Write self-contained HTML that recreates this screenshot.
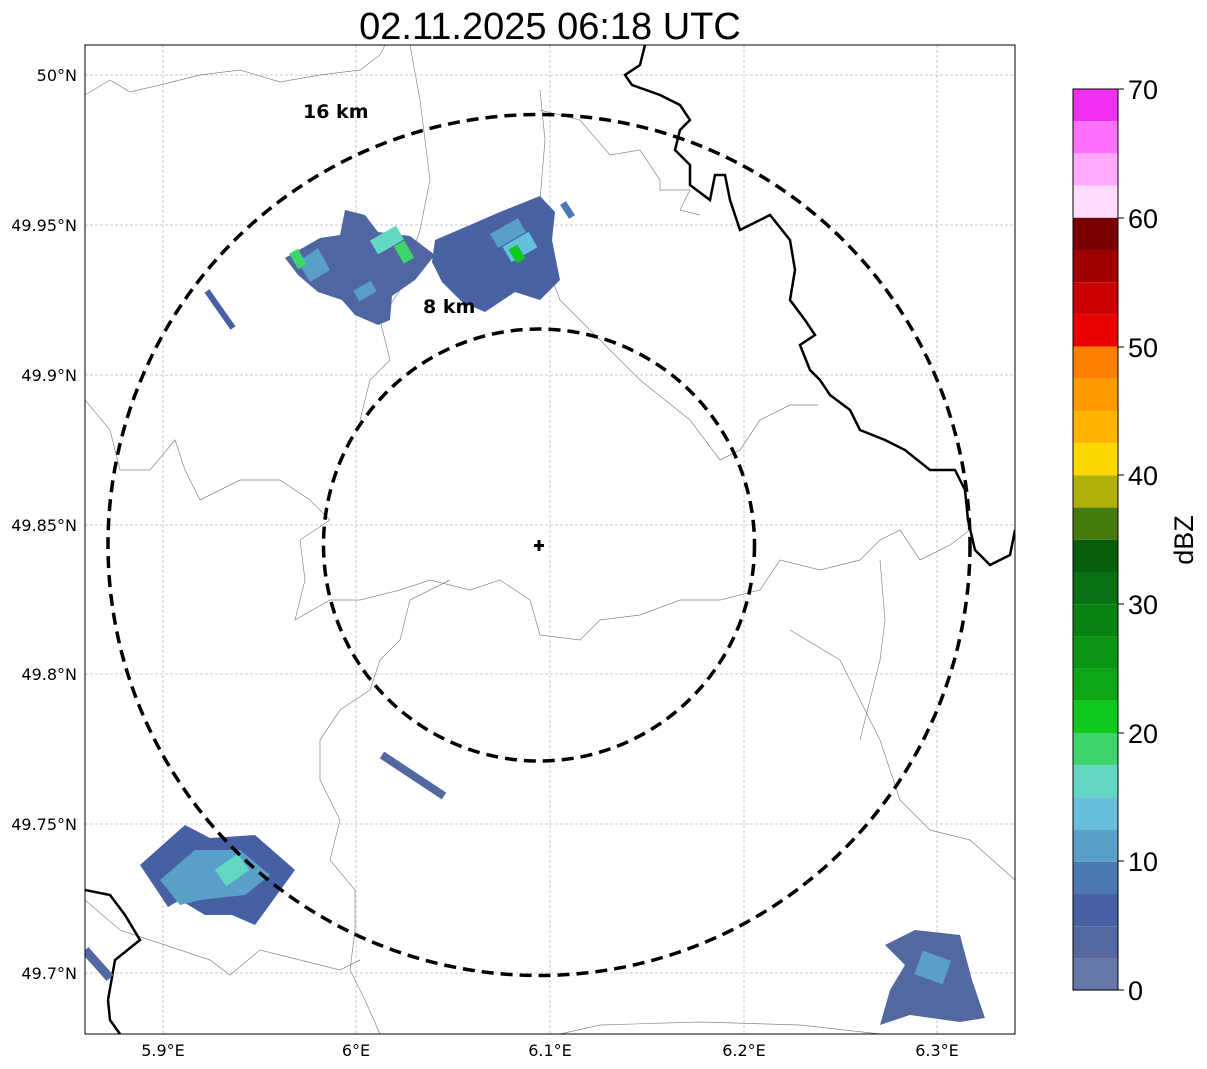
<!DOCTYPE html>
<html><head><meta charset="utf-8"><style>
body{margin:0;background:#fff;}
svg{display:block;font-family:"Liberation Sans",sans-serif;}
</style></head><body>
<svg width="1207" height="1069" viewBox="0 0 1207 1069" xmlns="http://www.w3.org/2000/svg">
<rect width="1207" height="1069" fill="#fff"/>
<text x="550" y="39" font-size="38" text-anchor="middle">02.11.2025 06:18 UTC</text>
<defs><clipPath id="c"><rect x="85" y="45" width="930" height="989"/></clipPath></defs>
<g clip-path="url(#c)">
<g stroke="#bbb" stroke-width="0.8" stroke-dasharray="3,2">
<line x1="163" y1="45" x2="163" y2="1034"/><line x1="356" y1="45" x2="356" y2="1034"/><line x1="550" y1="45" x2="550" y2="1034"/><line x1="744" y1="45" x2="744" y2="1034"/><line x1="937" y1="45" x2="937" y2="1034"/>
<line x1="85" y1="75" x2="1015" y2="75"/><line x1="85" y1="225" x2="1015" y2="225"/><line x1="85" y1="375" x2="1015" y2="375"/><line x1="85" y1="525" x2="1015" y2="525"/><line x1="85" y1="674" x2="1015" y2="674"/><line x1="85" y1="824" x2="1015" y2="824"/><line x1="85" y1="973" x2="1015" y2="973"/>
</g>
<g fill="none" stroke="#888" stroke-width="0.7">
<path d="M85,95 L110,80 L130,92 L160,85 L200,75 L240,70 L280,82 L320,75 L360,70 L380,55 L385,45"/>
<path d="M85,400 L110,430 L120,470 L150,470 L175,440 L185,470 L200,500 L240,480 L280,480 L310,500 L330,520 L300,540 L305,580 L295,620 L330,600 L360,600 L400,590 L430,580 L470,590 L500,580 L530,600 L540,635 L580,640 L600,620 L640,615 L680,600 L720,600 L760,590 L780,560 L820,570 L860,560 L880,540 L900,530 L920,560 L950,545 L970,530"/>
<path d="M450,580 L410,600 L400,640 L380,660 L370,690 L340,710 L320,740 L320,780 L340,820 L330,860 L355,890 L355,930 L350,970 L365,1000 L380,1034"/>
<path d="M540,90 L545,140 L540,200 L545,260 L560,300 L600,340 L640,380 L690,420 L720,460 L740,450 L760,420 L790,405 L818,405"/>
<path d="M410,45 L420,100 L430,180 L420,230 L400,290 L380,320 L390,360 L370,380 L360,420"/>
<path d="M540,110 L580,120 L610,155 L640,150 L660,180 L660,190 L690,190 L680,210 L700,215"/>
<path d="M790,630 L840,660 L860,700 L880,740 L900,800 L930,830 L970,840 L1015,880"/>
<path d="M85,900 L120,930 L150,940 L180,950 L210,960 L230,975 L260,950 L300,960 L340,970 L360,960"/>
<path d="M560,1034 L600,1025 L700,1022 L800,1025 L880,1034"/>
<path d="M880,560 L885,620 L880,660 L870,700 L860,740"/>
</g>
<g fill="none" stroke="#000" stroke-width="2.5">
<path d="M645,45 L640,65 L625,75 L632,85 L660,95 L680,105 L690,120 L680,130 L675,150 L690,165 L690,185 L710,200 L715,175 L725,175 L730,200 L740,230 L770,215 L790,240 L795,270 L790,300 L805,320 L815,335 L800,345 L810,370 L820,380 L830,395 L850,410 L860,430 L885,440 L905,450 L930,470 L955,470 L965,490 L968,520 L975,550 L990,565 L1010,555 L1015,530"/>
<path d="M85,890 L110,895 L125,915 L140,940 L115,960 L108,1000 L110,1020 L120,1034"/>
</g>
<!-- radar echoes -->
<g>
<polygon fill="#5066a2" points="285,258 320,238 340,235 345,210 365,215 378,232 410,236 435,255 415,280 392,296 390,320 378,325 355,315 342,300 318,292 298,275"/>
<polygon fill="#4a62a3" points="435,240 470,225 500,212 540,196 555,212 552,240 560,280 540,300 515,292 485,312 462,302 442,282 432,262"/>
<polygon fill="#59a0c8" points="298,262 318,248 330,270 310,282"/>
<rect x="293" y="250" width="10" height="18" fill="#3ed46c" transform="rotate(-30 298 259)"/>
<rect x="372" y="232" width="30" height="16" fill="#64d6c4" transform="rotate(-30 387 240)"/>
<rect x="398" y="242" width="12" height="20" fill="#3ed46c" transform="rotate(-30 404 252)"/>
<rect x="492" y="225" width="32" height="16" fill="#59a0c8" transform="rotate(-30 508 233)"/>
<rect x="505" y="238" width="30" height="18" fill="#66c0dc" transform="rotate(-30 520 247)"/>
<rect x="512" y="246" width="10" height="16" fill="#10c81e" transform="rotate(-30 517 254)"/>
<rect x="355" y="285" width="20" height="12" fill="#59a0c8" transform="rotate(-30 365 291)"/>
<line x1="563" y1="203" x2="572" y2="217" stroke="#4a78b0" stroke-width="7"/>
<line x1="207" y1="291" x2="233" y2="328" stroke="#4660a3" stroke-width="6"/>
<line x1="382" y1="755" x2="444" y2="796" stroke="#5468a0" stroke-width="8"/>
<polygon fill="#4660a3" points="140,865 185,825 210,838 255,835 295,870 255,925 232,915 205,915 180,900 168,907"/>
<polygon fill="#59a0c8" points="160,880 195,850 240,850 270,875 245,895 200,900 180,905"/>
<rect x="218" y="860" width="28" height="20" fill="#64d6c4" transform="rotate(-35 232 870)"/>
<polygon fill="#5468a0" points="885,945 915,930 960,935 972,980 985,1018 960,1022 910,1015 880,1025 890,990 905,965"/>
<rect x="918" y="955" width="30" height="25" fill="#59a0c8" transform="rotate(20 933 967)"/>
<line x1="85" y1="950" x2="110" y2="978" stroke="#5468a0" stroke-width="9"/>
</g>
<ellipse cx="539" cy="545" rx="431" ry="430.5" fill="none" stroke="#000" stroke-width="3.5" stroke-dasharray="12,7"/>
<ellipse cx="539" cy="545" rx="215.5" ry="216" fill="none" stroke="#000" stroke-width="3.5" stroke-dasharray="12,7"/>
<path d="M539,540 V551 M534,545.5 H544" stroke="#000" stroke-width="3"/>
<text x="303" y="118" font-size="19" font-weight="bold" font-family="DejaVu Sans, sans-serif">16 km</text>
<text x="423" y="313" font-size="19" font-weight="bold" font-family="DejaVu Sans, sans-serif">8 km</text>
</g>
<rect x="85" y="45" width="930" height="989" fill="none" stroke="#000" stroke-width="1"/>
<g font-size="16" text-anchor="end" font-family="DejaVu Sans, sans-serif">
<text x="77" y="81">50°N</text><text x="77" y="231">49.95°N</text><text x="77" y="381">49.9°N</text><text x="77" y="531">49.85°N</text><text x="77" y="680">49.8°N</text><text x="77" y="830">49.75°N</text><text x="77" y="979">49.7°N</text>
</g>
<g font-size="16" text-anchor="middle" font-family="DejaVu Sans, sans-serif">
<text x="163" y="1056">5.9°E</text><text x="356" y="1056">6°E</text><text x="550" y="1056">6.1°E</text><text x="744" y="1056">6.2°E</text><text x="937" y="1056">6.3°E</text>
</g>
<g>
<rect x="1073" y="89.0" width="45" height="32.2" fill="#f030f0"/>
<rect x="1073" y="121.2" width="45" height="32.2" fill="#ff70ff"/>
<rect x="1073" y="153.4" width="45" height="32.2" fill="#ffaaff"/>
<rect x="1073" y="185.6" width="45" height="32.2" fill="#ffdcff"/>
<rect x="1073" y="217.8" width="45" height="32.2" fill="#780000"/>
<rect x="1073" y="250.0" width="45" height="32.2" fill="#a00000"/>
<rect x="1073" y="282.2" width="45" height="32.2" fill="#c80000"/>
<rect x="1073" y="314.4" width="45" height="32.2" fill="#e80000"/>
<rect x="1073" y="346.6" width="45" height="32.2" fill="#ff7f00"/>
<rect x="1073" y="378.8" width="45" height="32.2" fill="#ff9a00"/>
<rect x="1073" y="411.0" width="45" height="32.2" fill="#ffb400"/>
<rect x="1073" y="443.2" width="45" height="32.2" fill="#ffd800"/>
<rect x="1073" y="475.4" width="45" height="32.2" fill="#b0b00a"/>
<rect x="1073" y="507.6" width="45" height="32.2" fill="#467a0a"/>
<rect x="1073" y="539.8" width="45" height="32.2" fill="#065e0c"/>
<rect x="1073" y="572.0" width="45" height="32.2" fill="#087010"/>
<rect x="1073" y="604.2" width="45" height="32.2" fill="#0a8212"/>
<rect x="1073" y="636.4" width="45" height="32.2" fill="#0c9414"/>
<rect x="1073" y="668.6" width="45" height="32.2" fill="#0ea616"/>
<rect x="1073" y="700.8" width="45" height="32.2" fill="#10c81e"/>
<rect x="1073" y="733.0" width="45" height="32.2" fill="#3ed46c"/>
<rect x="1073" y="765.2" width="45" height="32.2" fill="#64d6c4"/>
<rect x="1073" y="797.4" width="45" height="32.2" fill="#66c0dc"/>
<rect x="1073" y="829.6" width="45" height="32.2" fill="#59a0c8"/>
<rect x="1073" y="861.8" width="45" height="32.2" fill="#4a78b0"/>
<rect x="1073" y="894.0" width="45" height="32.2" fill="#4660a3"/>
<rect x="1073" y="926.2" width="45" height="32.2" fill="#5468a0"/>
<rect x="1073" y="958.4" width="45" height="32.2" fill="#6577a9"/>
<rect x="1073" y="89" width="45" height="901" fill="none" stroke="#000" stroke-width="1"/>
<g stroke="#000"><line x1="1118" y1="89" x2="1124" y2="89"/><line x1="1118" y1="218" x2="1124" y2="218"/><line x1="1118" y1="347" x2="1124" y2="347"/><line x1="1118" y1="475" x2="1124" y2="475"/><line x1="1118" y1="604" x2="1124" y2="604"/><line x1="1118" y1="733" x2="1124" y2="733"/><line x1="1118" y1="861" x2="1124" y2="861"/><line x1="1118" y1="990" x2="1124" y2="990"/></g>
<g font-size="27"><text x="1128" y="99">70</text><text x="1128" y="228">60</text><text x="1128" y="357">50</text><text x="1128" y="485">40</text><text x="1128" y="614">30</text><text x="1128" y="743">20</text><text x="1128" y="871">10</text><text x="1128" y="1000">0</text></g>
<text x="1193" y="540" font-size="27" text-anchor="middle" transform="rotate(-90 1193 540)">dBZ</text>
</g>
</svg>
</body></html>
